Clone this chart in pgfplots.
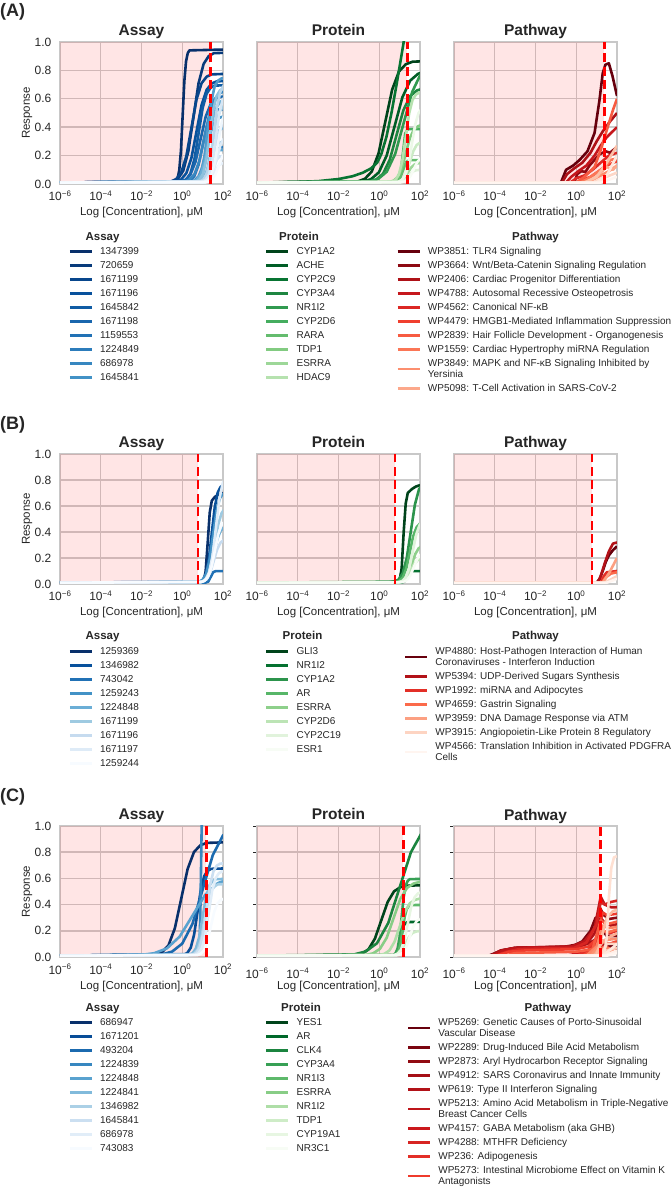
\documentclass[border=0pt]{standalone}
\usepackage{fontspec}
\setmainfont{Liberation Sans}
\usepackage{pgfplots}
\pgfplotsset{compat=1.18}

\definecolor{txt}{HTML}{262626}
\definecolor{gridc}{HTML}{CCCCCC}
\definecolor{framec}{HTML}{C8C8C8}
% sequential maps, darkest first
\definecolor{bl0}{HTML}{08306B}\definecolor{bl1}{HTML}{08519C}\definecolor{bl2}{HTML}{2171B5}
\definecolor{bl3}{HTML}{4292C6}\definecolor{bl4}{HTML}{6BAED6}\definecolor{bl5}{HTML}{9ECAE1}
\definecolor{bl6}{HTML}{C6DBEF}\definecolor{bl7}{HTML}{DEEBF7}\definecolor{bl8}{HTML}{F7FBFF}
\definecolor{gr0}{HTML}{00441B}\definecolor{gr1}{HTML}{006D2C}\definecolor{gr2}{HTML}{238B45}
\definecolor{gr3}{HTML}{41AB5D}\definecolor{gr4}{HTML}{74C476}\definecolor{gr5}{HTML}{A1D99B}
\definecolor{gr6}{HTML}{C7E9C0}\definecolor{gr7}{HTML}{E5F5E0}\definecolor{gr8}{HTML}{F7FCF5}
\definecolor{rd0}{HTML}{67000D}\definecolor{rd1}{HTML}{A50F15}\definecolor{rd2}{HTML}{CB181D}
\definecolor{rd3}{HTML}{EF3B2C}\definecolor{rd4}{HTML}{FB6A4A}\definecolor{rd5}{HTML}{FC9272}
\definecolor{rd6}{HTML}{FCBBA1}\definecolor{rd7}{HTML}{FEE0D2}\definecolor{rd8}{HTML}{FFF5F0}

% legend rows: fixed height/depth so that rows are evenly spaced
\newcommand\lsA{\rule{0pt}{10pt}}
\newcommand\lsB{\rule[-4pt]{0pt}{4pt}}
\newcommand\lgi[1]{\lsA#1\lsB}
\newcommand\lgii[2]{\parbox[c]{270pt}{\baselineskip=11pt\lsA#1\\#2\lsB}}

\pgfplotsset{
  panel/.style={
    scale only axis, width=163pt,
    xmin=-6, xmax=2, ymin=0, ymax=1,
    xtick={-6,-4,-2,0,2},
    xticklabels={10\textsuperscript{−6},10\textsuperscript{−4},10\textsuperscript{−2},10\textsuperscript{0},10\textsuperscript{2}},
    ytick={0,0.2,0.4,0.6,0.8,1},
    grid=major,
    major grid style={draw=gridc, line width=1.4pt},
    axis line style={draw=framec, line width=2pt},
    tick style={draw=none},
    tick label style={font=\fontsize{12}{12}\selectfont, text=txt, inner sep=0pt},
    xticklabel style={anchor=base, yshift=-17pt},
    yticklabel style={anchor=east, xshift=-8.5pt},
    xlabel={Log [Concentration], μM},
    xlabel style={at={(axis description cs:0.5,0)}, anchor=base, yshift=-32pt,
      font=\fontsize{11.5}{11.5}\selectfont, text=txt, inner sep=0pt},
    title style={at={(axis description cs:0.5,1)}, anchor=base, yshift=0pt,
      font=\bfseries\fontsize{15.5}{15.5}\selectfont, text=txt, inner sep=0pt},
    legend cell align=left,
    legend image code/.code={\draw[##1] (0pt,0pt) -- (22pt,0pt);},
    legend style={draw=none, fill=none, inner sep=0pt, outer sep=0pt,
      row sep=0pt, column sep=7pt, anchor=north west,
      font=\fontsize{10}{11}\selectfont,
      nodes={inner sep=0pt, text depth=, text=txt}},
    every axis plot/.append style={line width=2.6pt, line join=round},
  },
  ylab/.style={ylabel=Response, yticklabels={0.0,0.2,0.4,0.6,0.8,1.0},
    ylabel style={at={(axis description cs:-0.2025,0.5)}, anchor=center,
      font=\fontsize{11.5}{11.5}\selectfont, text=txt, inner sep=0pt}},
  noylab/.style={yticklabels={,,,,,}},
  cticks/.style={ytick style={draw=txt, line width=0.8pt}, ytick pos=left, tick align=outside, major tick length=4pt},
  shade/.style={draw=none, fill=red, fill opacity=0.1, forget plot},
  cut/.style={color=red, line width=2.8pt, dash pattern=on 9pt off 4.5pt, forget plot},
}

\begin{document}
\begin{tikzpicture}[x=1pt,y=1pt]
\path[use as bounding box] (0,0) rectangle (670,1187);

\node[anchor=west, inner sep=0pt, text=txt, font=\bfseries\fontsize{18}{18}\selectfont] at (0,1175) {(A)};
\node[anchor=west, inner sep=0pt, text=txt, font=\bfseries\fontsize{18}{18}\selectfont] at (0,762) {(B)};
\node[anchor=west, inner sep=0pt, text=txt, font=\bfseries\fontsize{18}{18}\selectfont] at (0,390) {(C)};

%% ---------------- (A) Assay
\begin{axis}[panel, ylab, at={(60pt,1003pt)}, anchor=south west, height=142pt, title={Assay},
  legend style={at={(0.052,-0.427)}}]
\addplot[shade] coordinates {(-6,1) (1.38,1)} \closedcycle;
\addplot[color=bl0] coordinates {(-6,0.01) (-0.313,0.019) (-0.23,0.039) (-0.147,0.096) (-0.063,0.236) (0.02,0.48) (0.103,0.724) (0.187,0.864) (0.27,0.921) (0.353,0.941) (3,0.95)};
\addlegendentry{\lgi{1347399}}
\addplot[color=bl1!33!bl0] coordinates {(-6,0.01) (-0.45,0.019) (-0.2,0.039) (0.05,0.094) (0.3,0.231) (0.55,0.47) (0.8,0.709) (1.05,0.846) (1.3,0.901) (1.55,0.921) (3,0.93)};
\addlegendentry{\lgi{720659}}
\addplot[color=bl1!67!bl0] coordinates {(-6,0.01) (-0.55,0.018) (-0.3,0.034) (-0.05,0.08) (0.2,0.195) (0.45,0.395) (0.7,0.595) (0.95,0.71) (1.2,0.756) (1.45,0.772) (3,0.78)};
\addlegendentry{\lgi{1671199}}
\addplot[color=bl1] coordinates {(-6,0.01) (-0.3,0.017) (-0.05,0.032) (0.2,0.076) (0.45,0.183) (0.7,0.37) (0.95,0.557) (1.2,0.664) (1.45,0.708) (1.7,0.723) (3,0.73)};
\addlegendentry{\lgi{1671196}}
\addplot[color=bl2!33!bl1] coordinates {(-6,0.01) (0,0.017) (0.2,0.031) (0.4,0.073) (0.6,0.176) (0.8,0.355) (1.0,0.534) (1.2,0.637) (1.4,0.679) (1.6,0.693) (3,0.70)};
\addlegendentry{\lgi{1645842}}
\addplot[color=bl2!67!bl1] coordinates {(-6,0.01) (-0.1,0.016) (0.15,0.029) (0.4,0.066) (0.65,0.156) (0.9,0.315) (1.15,0.474) (1.4,0.564) (1.65,0.601) (1.9,0.614) (3,0.62)};
\addlegendentry{\lgi{1671198}}
\addplot[color=bl2] coordinates {(-6,0.01) (0.2,0.015) (0.4,0.026) (0.6,0.057) (0.8,0.135) (1.0,0.27) (1.2,0.405) (1.4,0.483) (1.6,0.514) (1.8,0.525) (3,0.53)};
\addlegendentry{\lgi{1159553}}
\addplot[color=bl3!33!bl2] coordinates {(-6,0.01) (1.05,0.012) (1.175,0.033) (1.3,0.135) (1.425,0.237) (1.55,0.258) (3,0.26)};
\addlegendentry{\lgi{1224849}}
\addplot[color=bl3!67!bl2] coordinates {(-6,0.01) (0.1,0.016) (0.35,0.03) (0.6,0.069) (0.85,0.166) (1.1,0.335) (1.35,0.504) (1.6,0.6) (1.85,0.64) (2.1,0.654) (3,0.66)};
\addlegendentry{\lgi{686978}}
\addplot[color=bl3] coordinates {(-6,0.01) (0.4,0.015) (0.6,0.025) (0.8,0.053) (1.0,0.123) (1.2,0.245) (1.4,0.367) (1.6,0.437) (1.8,0.465) (2.0,0.475) (3,0.48)};
\addlegendentry{\lgi{1645841}}
\addplot[color=bl4!33!bl3] coordinates {(-6,0.01) (0.583,0.017) (0.75,0.033) (0.917,0.077) (1.083,0.188) (1.25,0.38) (1.417,0.572) (1.583,0.683) (1.75,0.727) (1.917,0.743) (3,0.75)};
\addplot[color=bl4!67!bl3] coordinates {(-6,0.01) (1.1,0.012) (1.225,0.031) (1.35,0.125) (1.475,0.219) (1.6,0.238) (3,0.24)};
\addplot[color=bl4] coordinates {(-6,0.01) (0.5,0.016) (0.7,0.028) (0.9,0.064) (1.1,0.152) (1.3,0.305) (1.5,0.458) (1.7,0.546) (1.9,0.582) (2.1,0.594) (3,0.6)};
\addplot[color=bl5!33!bl4] coordinates {(-6,0.01) (0.733,0.014) (0.9,0.022) (1.067,0.045) (1.233,0.104) (1.4,0.205) (1.567,0.306) (1.733,0.365) (1.9,0.388) (2.067,0.396) (3,0.4)};
\addplot[color=bl5!67!bl4] coordinates {(-6,0.01) (0.683,0.017) (0.85,0.031) (1.017,0.071) (1.183,0.171) (1.35,0.345) (1.517,0.519) (1.683,0.619) (1.85,0.659) (2.017,0.673) (3,0.68)};
\addplot[color=bl5] coordinates {(-6,0.01) (0.833,0.015) (1.0,0.027) (1.167,0.06) (1.333,0.142) (1.5,0.285) (1.667,0.428) (1.833,0.51) (2.0,0.543) (2.167,0.555)};
\addplot[color=bl6!33!bl5] coordinates {(-6,0.01) (0.95,0.013) (1.075,0.019) (1.2,0.036) (1.325,0.08) (1.45,0.155) (1.575,0.23) (1.7,0.274) (1.825,0.291) (1.95,0.297) (3,0.3)};
\addplot[color=bl6!67!bl5] coordinates {(-6,0.01) (0.883,0.017) (1.05,0.032) (1.217,0.075) (1.383,0.18) (1.55,0.365) (1.717,0.55) (1.883,0.655) (2.05,0.698)};
\addplot[color=bl6] coordinates {(-6,0.01) (0.933,0.014) (1.1,0.024) (1.267,0.05) (1.433,0.116) (1.6,0.23) (1.767,0.344) (1.933,0.41) (2.1,0.436)};
\addplot[color=bl7!33!bl6] coordinates {(-6,0.01) (1.0,0.012) (1.125,0.016) (1.25,0.027) (1.375,0.056) (1.5,0.105) (1.625,0.154) (1.75,0.183) (1.875,0.194) (2.0,0.198)};
\addplot[color=bl7!67!bl6] coordinates {(-6,0.01) (0.983,0.016) (1.15,0.03) (1.317,0.068) (1.483,0.164) (1.65,0.33) (1.817,0.496) (1.983,0.592) (2.15,0.63)};
\addplot[color=bl7] coordinates {(-6,0.01) (1.033,0.013) (1.2,0.021) (1.367,0.041) (1.533,0.092) (1.7,0.18) (1.867,0.268) (2.033,0.319)};
\addplot[color=bl8!33!bl7] coordinates {(-6,0.01) (1.1,0.011) (1.225,0.014) (1.35,0.023) (1.475,0.044) (1.6,0.08) (1.725,0.116) (1.85,0.137) (1.975,0.146) (2.1,0.149)};
\addplot[color=bl8!67!bl7] coordinates {(-6,0.01) (1.083,0.015) (1.25,0.027) (1.417,0.059) (1.583,0.14) (1.75,0.28) (1.917,0.42) (2.083,0.501)};
\addplot[color=bl8] coordinates {(-6,0.01) (1.133,0.012) (1.3,0.017) (1.467,0.032) (1.633,0.068) (1.8,0.13) (1.967,0.192) (2.133,0.228)};
\addplot[cut] coordinates {(1.38,0) (1.38,1)};
\end{axis}

%% ---------------- (A) Protein
\begin{axis}[panel, noylab, at={(257pt,1003pt)}, anchor=south west, height=142pt, title={Protein},
  legend style={at={(0.049,-0.427)}}]
\addplot[shade] coordinates {(-6,1) (1.38,1)} \closedcycle;
\addplot[color=gr0] coordinates {(-6,0.01) (-1.033,0.019) (-0.7,0.037) (-0.367,0.088) (-0.033,0.216) (0.3,0.44) (0.633,0.664) (0.967,0.792) (1.3,0.843) (1.633,0.861) (3,0.87)};
\addlegendentry{\lgi{CYP1A2}}
\addplot[color=gr1!62!gr0] coordinates {(-6,0.01) (-0.788,0.018) (-0.404,0.034) (-0.019,0.082) (0.365,0.2) (0.75,0.405) (1.135,0.61) (1.519,0.728) (1.904,0.776) (2.288,0.792)};
\addlegendentry{\lgi{ACHE}}
\addplot[color=gr2!23!gr1] coordinates {(-6,0.01) (-4,0.015) (-3,0.02) (-2,0.035) (-1.3,0.055) (-0.8,0.08) (-0.4,0.11) (-0.1,0.15) (0.1,0.21) (0.35,0.33) (0.6,0.5) (0.85,0.7) (1.05,0.87) (1.2,1.0) (1.4,1.2)};
\addlegendentry{\lgi{CYP2C9}}
\addplot[color=gr2!85!gr1] coordinates {(-6,0.01) (-0.483,0.017) (-0.15,0.031) (0.183,0.071) (0.517,0.171) (0.85,0.345) (1.183,0.519) (1.517,0.619) (1.85,0.659) (2.183,0.673)};
\addlegendentry{\lgi{CYP3A4}}
\addplot[color=gr3!46!gr2] coordinates {(-6,0.01) (-0.467,0.018) (-0.05,0.036) (0.367,0.086) (0.783,0.212) (1.2,0.43) (1.617,0.648) (2.033,0.774) (2.45,0.824)};
\addlegendentry{\lgi{NR1I2}}
\addplot[color=gr4!8!gr3] coordinates {(-6,0.01) (0.9,0.014) (1.025,0.045) (1.15,0.2) (1.275,0.355) (1.4,0.386) (3,0.39)};
\addlegendentry{\lgi{CYP2D6}}
\addplot[color=gr4!69!gr3] coordinates {(-6,0.01) (0.817,0.012) (0.983,0.025) (1.15,0.09) (1.317,0.155) (1.483,0.168) (3,0.17)};
\addlegendentry{\lgi{RARA}}
\addplot[color=gr5!31!gr4] coordinates {(-6,0.01) (0.5,0.014) (0.7,0.023) (0.9,0.047) (1.1,0.108) (1.3,0.215) (1.5,0.322) (1.7,0.383) (1.9,0.407) (2.1,0.416)};
\addlegendentry{\lgi{TDP1}}
\addplot[color=gr5!92!gr4] coordinates {(-6,0.01) (0.733,0.011) (0.9,0.014) (1.067,0.023) (1.233,0.044) (1.4,0.08) (1.567,0.116) (1.733,0.137) (1.9,0.146) (2.067,0.149)};
\addlegendentry{\lgi{ESRRA}}
\addplot[color=gr6!54!gr5] coordinates {(-6,0.01) (0.633,0.016) (0.8,0.03) (0.967,0.068) (1.133,0.164) (1.3,0.33) (1.467,0.496) (1.633,0.592) (1.8,0.63) (1.967,0.644) (3,0.65)};
\addlegendentry{\lgi{HDAC9}}
\addplot[color=gr7!15!gr6] coordinates {(-6,0.01) (0.833,0.013) (1.0,0.019) (1.167,0.036) (1.333,0.08) (1.5,0.155) (1.667,0.23) (1.833,0.274) (2.0,0.291)};
\addplot[color=gr7!77!gr6] coordinates {(-6,0.01) (0.95,0.011) (1.075,0.013) (1.2,0.018) (1.325,0.032) (1.45,0.055) (1.575,0.078) (1.7,0.092) (1.825,0.097) (1.95,0.099)};
\addplot[color=gr8!38!gr7] coordinates {(-6,0.01) (0.933,0.015) (1.1,0.027) (1.267,0.059) (1.433,0.14) (1.6,0.28) (1.767,0.42) (1.933,0.501) (2.1,0.533)};
\addplot[color=gr8] coordinates {(-6,0.01) (1.033,0.012) (1.2,0.016) (1.367,0.027) (1.533,0.056) (1.7,0.105) (1.867,0.154) (2.033,0.183)};
\addplot[cut] coordinates {(1.38,0) (1.38,1)};
\end{axis}

%% ---------------- (A) Pathway
\begin{axis}[panel, noylab, at={(454pt,1003pt)}, anchor=south west, height=142pt, title={Pathway},
  legend style={at={(-0.354,-0.427)}}]
\addplot[shade] coordinates {(-6,1) (1.38,1)} \closedcycle;
\addplot[color=rd0] coordinates {(-6,0.01) (-0.75,0.01) (-0.5,0.1) (-0.15,0.13) (0.17,0.17) (0.55,0.23) (0.9,0.36) (1.14,0.59) (1.3,0.78) (1.43,0.84) (1.6,0.85) (1.78,0.76) (2,0.62)};
\addlegendentry{\lgi{WP3851: TLR4 Signaling}}
\addplot[color=rd1!62!rd0] coordinates {(-6,0.01) (-0.1,0.01) (0.05,0.07) (0.25,0.09) (0.45,0.085) (0.65,0.13) (0.9,0.17) (1.15,0.21) (1.45,0.23) (1.65,0.22) (2,0.26)};
\addlegendentry{\lgi{WP3664: Wnt/Beta-Catenin Signaling Regulation}}
\addplot[color=rd2!23!rd1] coordinates {(-6,0.01) (-0.7,0.01) (-0.45,0.07) (-0.1,0.11) (0.3,0.15) (0.7,0.22) (1.0,0.3) (1.3,0.37) (1.6,0.43) (2,0.5)};
\addlegendentry{\lgi{WP2406: Cardiac Progenitor Differentiation}}
\addplot[color=rd2!85!rd1] coordinates {(-6,0.01) (-0.5,0.01) (-0.25,0.05) (0.1,0.09) (0.5,0.13) (0.9,0.2) (1.2,0.27) (1.5,0.33) (2,0.4)};
\addlegendentry{\lgi{WP4788: Autosomal Recessive Osteopetrosis}}
\addplot[color=rd3!46!rd2] coordinates {(-6,0.01) (-0.3,0.01) (0,0.04) (0.4,0.06) (0.8,0.1) (1.2,0.15) (1.6,0.2) (2,0.22)};
\addlegendentry{\lgi{WP4562: Canonical NF-κB}}
\addplot[color=rd4!8!rd3] coordinates {(-6,0.01) (0,0.01) (0.3,0.03) (0.7,0.05) (1.1,0.09) (1.5,0.13) (2,0.16)};
\addlegendentry{\lgi{WP4479: HMGB1-Mediated Inflammation Suppression}}
\addplot[color=rd4!69!rd3] coordinates {(-6,0.01) (0,0.01) (0.4,0.05) (0.9,0.12) (1.2,0.24) (1.5,0.38) (1.8,0.52) (2,0.6)};
\addlegendentry{\lgi{WP2839: Hair Follicle Development - Organogenesis}}
\addplot[color=rd5!31!rd4] coordinates {(-6,0.01) (0.2,0.01) (0.6,0.04) (1.0,0.08) (1.4,0.12) (1.7,0.17) (2,0.18)};
\addlegendentry{\lgi{WP1559: Cardiac Hypertrophy miRNA Regulation}}
\addplot[color=rd5!92!rd4] coordinates {(-6,0.01) (0.3,0.01) (0.8,0.03) (1.2,0.06) (1.6,0.09) (2,0.13)};
\addlegendentry{\lgii{WP3849: MAPK and NF-κB Signaling Inhibited by}{Yersinia}}
\addplot[color=rd6!54!rd5] coordinates {(-6,0.01) (0.5,0.01) (0.9,0.04) (1.2,0.08) (1.5,0.12) (1.8,0.1) (2,0.13)};
\addlegendentry{\lgi{WP5098: T-Cell Activation in SARS-CoV-2}}
\addplot[color=rd7!15!rd6] coordinates {(-6,0.01) (0.4,0.01) (1.0,0.05) (1.5,0.15) (2,0.27)};
\addplot[color=rd7!77!rd6] coordinates {(-6,0.01) (0.8,0.01) (1.3,0.04) (2,0.08)};
\addplot[color=rd8!38!rd7] coordinates {(-6,0.01) (1.0,0.01) (1.5,0.06) (2,0.2)};
\addplot[color=rd8] coordinates {(-6,0.01) (1.2,0.01) (2,0.05)};
\addplot[cut] coordinates {(1.38,0) (1.38,1)};
\end{axis}

%% ---------------- (B) Assay
\begin{axis}[panel, ylab, at={(60pt,603pt)}, anchor=south west, height=130pt, title={Assay},
  legend style={at={(0.052,-0.466)}}]
\addplot[shade] coordinates {(-6,1) (0.77,1)} \closedcycle;
\addplot[color=bl0] coordinates {(-6,0.01) (1.05,0.01) (1.15,0.1) (1.25,0.32) (1.35,0.55) (1.45,0.64) (1.6,0.67) (1.8,0.69) (2,0.7)};
\addlegendentry{\lgi{1259369}}
\addplot[color=bl1] coordinates {(-6,0.01) (0.879,0.018) (1.021,0.034) (1.164,0.079) (1.307,0.192) (1.45,0.39) (1.593,0.588) (1.736,0.701) (1.879,0.746) (2.021,0.762)};
\addlegendentry{\lgi{1346982}}
\addplot[color=bl2] coordinates {(-6,0.01) (1.15,0.011) (1.275,0.018) (1.4,0.055) (1.525,0.092) (1.65,0.099) (3,0.1)};
\addlegendentry{\lgi{743042}}
\addplot[color=bl3] coordinates {(-6,0.01) (0.833,0.017) (1.0,0.032) (1.167,0.075) (1.333,0.18) (1.5,0.365) (1.667,0.55) (1.833,0.655) (2.0,0.698)};
\addlegendentry{\lgi{1259243}}
\addplot[color=bl4] coordinates {(-6,0.01) (0.883,0.014) (1.05,0.024) (1.217,0.05) (1.383,0.116) (1.55,0.23) (1.717,0.344) (1.883,0.41) (2.05,0.436)};
\addlegendentry{\lgi{1224848}}
\addplot[color=bl5] coordinates {(-6,0.01) (0.933,0.016) (1.1,0.028) (1.267,0.064) (1.433,0.152) (1.6,0.305) (1.767,0.458) (1.933,0.546) (2.1,0.582)};
\addlegendentry{\lgi{1671199}}
\addplot[color=bl6] coordinates {(-6,0.01) (0.883,0.013) (1.05,0.021) (1.217,0.041) (1.383,0.092) (1.55,0.18) (1.717,0.268) (1.883,0.319) (2.05,0.339)};
\addlegendentry{\lgi{1671196}}
\addplot[color=bl7] coordinates {(-6,0.01) (0.983,0.018) (1.15,0.036) (1.317,0.086) (1.483,0.212) (1.65,0.43) (1.817,0.648) (1.983,0.774) (2.15,0.824)};
\addlegendentry{\lgi{1671197}}
\addplot[color=bl8] coordinates {(-6,0.01) (0.933,0.015) (1.1,0.025) (1.267,0.055) (1.433,0.128) (1.6,0.255) (1.767,0.382) (1.933,0.455) (2.1,0.485)};
\addlegendentry{\lgi{1259244}}
\addplot[cut] coordinates {(0.77,0) (0.77,1)};
\end{axis}

%% ---------------- (B) Protein
\begin{axis}[panel, noylab, at={(257pt,603pt)}, anchor=south west, height=130pt, title={Protein},
  legend style={at={(0.049,-0.466)}}]
\addplot[shade] coordinates {(-6,1) (0.77,1)} \closedcycle;
\addplot[color=gr0] coordinates {(-6,0.01) (0.4,0.01) (0.7,0.02) (1.0,0.03) (1.1,0.12) (1.2,0.4) (1.3,0.62) (1.4,0.7) (1.6,0.73) (1.8,0.75) (2,0.76)};
\addlegendentry{\lgi{GLI3}}
\addplot[color=gr2!14!gr1] coordinates {(-6,0.01) (1.1,0.011) (1.225,0.018) (1.35,0.055) (1.475,0.092) (1.6,0.099) (3,0.1)};
\addlegendentry{\lgi{NR1I2}}
\addplot[color=gr3!29!gr2] coordinates {(-6,0.01) (0.75,0.018) (0.95,0.034) (1.15,0.082) (1.35,0.2) (1.55,0.405) (1.75,0.61) (1.95,0.728) (2.15,0.776)};
\addlegendentry{\lgi{CYP1A2}}
\addplot[color=gr4!43!gr3] coordinates {(-6,0.01) (0.833,0.015) (1.0,0.025) (1.167,0.053) (1.333,0.123) (1.5,0.245) (1.667,0.367) (1.833,0.437) (2.0,0.465)};
\addlegendentry{\lgi{AR}}
\addplot[color=gr5!57!gr4] coordinates {(-6,0.01) (0.933,0.013) (1.1,0.019) (1.267,0.036) (1.433,0.08) (1.6,0.155) (1.767,0.23) (1.933,0.274) (2.1,0.291)};
\addlegendentry{\lgi{ESRRA}}
\addplot[color=gr6!71!gr5] coordinates {(-6,0.01) (0.883,0.012) (1.05,0.016) (1.217,0.027) (1.383,0.056) (1.55,0.105) (1.717,0.154) (1.883,0.183) (2.05,0.194)};
\addlegendentry{\lgi{CYP2D6}}
\addplot[color=gr7!86!gr6] coordinates {(-6,0.01) (0.983,0.015) (1.15,0.025) (1.317,0.055) (1.483,0.128) (1.65,0.255) (1.817,0.382) (1.983,0.455) (2.15,0.485)};
\addlegendentry{\lgi{CYP2C19}}
\addplot[color=gr8] coordinates {(-6,0.01) (1.033,0.012) (1.2,0.017) (1.367,0.032) (1.533,0.068) (1.7,0.13) (1.867,0.192) (2.033,0.228)};
\addlegendentry{\lgi{ESR1}}
\addplot[cut] coordinates {(0.77,0) (0.77,1)};
\end{axis}

%% ---------------- (B) Pathway
\begin{axis}[panel, noylab, at={(454pt,603pt)}, anchor=south west, height=130pt, title={Pathway},
  legend style={at={(-0.308,-0.466)}}]
\addplot[shade] coordinates {(-6,1) (0.77,1)} \closedcycle;
\addplot[color=rd0] coordinates {(-6,0.01) (1.0,0.01) (1.15,0.04) (1.3,0.1) (1.45,0.17) (1.6,0.22) (1.8,0.26) (2,0.29)};
\addlegendentry{\lgii{WP4880: Host-Pathogen Interaction of Human}{Coronaviruses - Interferon Induction}}
\addplot[color=rd2!33!rd1] coordinates {(-6,0.01) (1.05,0.01) (1.2,0.06) (1.4,0.16) (1.6,0.25) (1.8,0.31) (2,0.32)};
\addlegendentry{\lgi{WP5394: UDP-Derived Sugars Synthesis}}
\addplot[color=rd3!67!rd2] coordinates {(-6,0.01) (1.2,0.01) (1.35,0.06) (1.5,0.09) (2,0.1)};
\addlegendentry{\lgi{WP1992: miRNA and Adipocytes}}
\addplot[color=rd4] coordinates {(-6,0.01) (1.25,0.01) (1.45,0.05) (1.7,0.08) (2,0.09)};
\addlegendentry{\lgi{WP4659: Gastrin Signaling}}
\addplot[color=rd6!33!rd5] coordinates {(-6,0.01) (1.3,0.01) (1.6,0.08) (2,0.2)};
\addlegendentry{\lgi{WP3959: DNA Damage Response via ATM}}
\addplot[color=rd7!67!rd6] coordinates {(-6,0.01) (1.4,0.01) (2,0.06)};
\addlegendentry{\lgi{WP3915: Angiopoietin-Like Protein 8 Regulatory}}
\addplot[color=rd8] coordinates {(-6,0.01) (1.5,0.01) (2,0.04)};
\addlegendentry{\lgii{WP4566: Translation Inhibition in Activated PDGFRA}{Cells}}
\addplot[cut] coordinates {(0.77,0) (0.77,1)};
\end{axis}

%% ---------------- (C) Assay
\begin{axis}[panel, ylab, at={(60pt,230pt)}, anchor=south west, height=131pt, title={Assay},
  legend style={at={(0.052,-0.447)}}]
\addplot[shade] coordinates {(-6,1) (1.18,1)} \closedcycle;
\addplot[color=bl0] coordinates {(-6,0.01) (-1.3,0.019) (-0.988,0.037) (-0.675,0.089) (-0.363,0.219) (-0.05,0.445) (0.263,0.671) (0.575,0.801) (0.888,0.853) (1.2,0.871) (3,0.88)};
\addlegendentry{\lgi{686947}}
\addplot[color=bl1!89!bl0] coordinates {(-6,0.01) (0.083,0.017) (0.25,0.031) (0.417,0.071) (0.583,0.171) (0.75,0.345) (0.917,0.519) (1.083,0.619) (1.25,0.659) (1.417,0.673) (3,0.68)};
\addlegendentry{\lgi{1671201}}
\addplot[color=bl2!78!bl1] coordinates {(-6,0.01) (-1,0.02) (-0.5,0.041) (0,0.102) (0.5,0.252) (1,0.515) (1.5,0.778) (2,0.928) (2.5,0.989)};
\addlegendentry{\lgi{493204}}
\addplot[color=bl3!67!bl2] coordinates {(-6,0.01) (0.787,0.023) (0.853,0.127) (0.887,0.32) (0.92,0.655) (0.953,0.99) (0.987,1.18) (1.053,1.287)};
\addlegendentry{\lgi{1224839}}
\addplot[color=bl4!56!bl3] coordinates {(-6,0.01) (-2,0.016) (-1.375,0.029) (-0.75,0.066) (-0.125,0.156) (0.5,0.315) (1.125,0.474) (1.75,0.564) (2.375,0.601)};
\addlegendentry{\lgi{1224848}}
\addplot[color=bl5!44!bl4] coordinates {(-6,0.01) (0.333,0.016) (0.5,0.028) (0.667,0.064) (0.833,0.152) (1.0,0.305) (1.167,0.458) (1.333,0.546) (1.5,0.582) (1.667,0.594) (3,0.6)};
\addlegendentry{\lgi{1224841}}
\addplot[color=bl6!33!bl5] coordinates {(-6,0.01) (0.433,0.015) (0.6,0.027) (0.767,0.06) (0.933,0.142) (1.1,0.285) (1.267,0.428) (1.433,0.51) (1.6,0.543) (1.767,0.555) (3,0.56)};
\addlegendentry{\lgi{1346982}}
\addplot[color=bl7!22!bl6] coordinates {(-6,0.01) (0.533,0.017) (0.7,0.032) (0.867,0.075) (1.033,0.18) (1.2,0.365) (1.367,0.55) (1.533,0.655) (1.7,0.698) (1.867,0.713) (3,0.72)};
\addlegendentry{\lgi{1645841}}
\addplot[color=bl8!11!bl7] coordinates {(-6,0.01) (0.633,0.016) (0.8,0.03) (0.967,0.069) (1.133,0.166) (1.3,0.335) (1.467,0.504) (1.633,0.6) (1.8,0.64) (1.967,0.654) (3,0.66)};
\addlegendentry{\lgi{686978}}
\addplot[color=bl8] coordinates {(-6,0.01) (0.733,0.014) (0.9,0.024) (1.067,0.05) (1.233,0.116) (1.4,0.23) (1.567,0.344) (1.733,0.41) (1.9,0.436) (2.067,0.446)};
\addlegendentry{\lgi{743083}}
\addplot[cut] coordinates {(1.18,0) (1.18,1)};
\end{axis}

%% ---------------- (C) Protein
\begin{axis}[panel, noylab, cticks, at={(257pt,230pt)}, anchor=south west, height=131pt, title={Protein},
  legend style={at={(0.049,-0.447)}}]
\addplot[shade] coordinates {(-6,1) (1.18,1)} \closedcycle;
\addplot[color=gr0] coordinates {(-6,0.01) (-1.15,0.015) (-0.838,0.027) (-0.525,0.059) (-0.213,0.14) (0.1,0.28) (0.413,0.42) (0.725,0.501) (1.038,0.533) (1.35,0.545) (3,0.55)};
\addlegendentry{\lgi{YES1}}
\addplot[color=gr1!89!gr0] coordinates {(-6,0.01) (0.717,0.013) (0.883,0.034) (1.05,0.14) (1.217,0.246) (1.383,0.267) (3,0.27)};
\addlegendentry{\lgi{AR}}
\addplot[color=gr2!78!gr1] coordinates {(-6,0.01) (-1.222,0.02) (-0.667,0.042) (-0.111,0.105) (0.444,0.26) (1.0,0.53) (1.556,0.8) (2.111,0.955) (2.667,1.018)};
\addlegendentry{\lgi{CLK4}}
\addplot[color=gr3!67!gr2] coordinates {(-6,0.01) (0.7,0.016) (0.8,0.028) (0.9,0.064) (1.0,0.152) (1.1,0.305) (1.2,0.458) (1.3,0.546) (1.4,0.582) (1.5,0.594) (3,0.6)};
\addlegendentry{\lgi{CYP3A4}}
\addplot[color=gr4!56!gr3] coordinates {(-6,0.01) (0.75,0.014) (0.85,0.022) (0.95,0.045) (1.05,0.104) (1.15,0.205) (1.25,0.306) (1.35,0.365) (1.45,0.388) (1.55,0.396) (3,0.4)};
\addlegendentry{\lgi{NR1I3}}
\addplot[color=gr5!44!gr4] coordinates {(-6,0.01) (-0.633,0.016) (-0.3,0.028) (0.033,0.062) (0.367,0.147) (0.7,0.295) (1.033,0.443) (1.367,0.528) (1.7,0.562) (2.033,0.574)};
\addlegendentry{\lgi{ESRRA}}
\addplot[color=gr6!33!gr5] coordinates {(-6,0.01) (0,0.014) (0.25,0.024) (0.5,0.05) (0.75,0.116) (1.0,0.23) (1.25,0.344) (1.5,0.41) (1.75,0.436) (2.0,0.446)};
\addlegendentry{\lgi{NR1I2}}
\addplot[color=gr7!22!gr6] coordinates {(-6,0.01) (0.633,0.012) (0.8,0.016) (0.967,0.027) (1.133,0.056) (1.3,0.105) (1.467,0.154) (1.633,0.183) (1.8,0.194) (1.967,0.198)};
\addlegendentry{\lgi{TDP1}}
\addplot[color=gr8!11!gr7] coordinates {(-6,0.01) (0.733,0.015) (0.9,0.025) (1.067,0.055) (1.233,0.128) (1.4,0.255) (1.567,0.382) (1.733,0.455) (1.9,0.485) (2.067,0.495)};
\addlegendentry{\lgi{CYP19A1}}
\addplot[color=gr8] coordinates {(-6,0.01) (0.833,0.013) (1.0,0.019) (1.167,0.036) (1.333,0.08) (1.5,0.155) (1.667,0.23) (1.833,0.274) (2.0,0.291)};
\addlegendentry{\lgi{NR3C1}}
\addplot[cut] coordinates {(1.18,0) (1.18,1)};
\end{axis}

%% ---------------- (C) Pathway
\begin{axis}[panel, noylab, cticks, at={(454pt,230pt)}, anchor=south west, height=131pt, title={Pathway},
  legend style={at={(-0.29,-0.447)}}]
\addplot[shade] coordinates {(-6,1) (1.18,1)} \closedcycle;
\addplot[color=rd0] coordinates {(-6,0.01) (-4.3,0.01) (-3.8,0.04) (-3.2,0.06) (-2,0.07) (-0.5,0.07) (0,0.08) (0.5,0.1) (0.9,0.12) (1.1,0.1) (1.3,0.08) (1.6,0.08) (2,0.08)};
\addlegendentry{\lgii{WP5269: Genetic Causes of Porto-Sinusoidal}{Vascular Disease}}
\addplot[color=rd1!33!rd0] coordinates {(-6,0.01) (-4.2,0.01) (-3.7,0.05) (-3.0,0.07) (-1,0.075) (-0.2,0.08) (0.3,0.12) (0.7,0.2) (0.95,0.3) (1.1,0.26) (1.3,0.2) (1.5,0.16) (2,0.16)};
\addlegendentry{\lgi{WP2289: Drug-Induced Bile Acid Metabolism}}
\addplot[color=rd1!67!rd0] coordinates {(-6,0.01) (-4.1,0.01) (-3.6,0.05) (-3.0,0.07) (-0.5,0.08) (0.2,0.1) (0.6,0.15) (0.9,0.22) (1.15,0.38) (1.35,0.32) (1.6,0.29) (2,0.3)};
\addlegendentry{\lgi{WP2873: Aryl Hydrocarbon Receptor Signaling}}
\addplot[color=rd1] coordinates {(-6,0.01) (-4.0,0.01) (-3.5,0.05) (-2.8,0.07) (-0.3,0.075) (0.3,0.09) (0.8,0.12) (1.1,0.15) (1.3,0.1) (1.6,0.07) (2,0.06)};
\addlegendentry{\lgi{WP4912: SARS Coronavirus and Innate Immunity}}
\addplot[color=rd2!33!rd1] coordinates {(-6,0.01) (-4.2,0.01) (-3.7,0.05) (-3.1,0.065) (0,0.07) (0.5,0.1) (0.9,0.18) (1.2,0.3) (1.4,0.26) (1.7,0.24) (2,0.25)};
\addlegendentry{\lgi{WP619: Type II Interferon Signaling}}
\addplot[color=rd2!67!rd1] coordinates {(-6,0.01) (-4.1,0.01) (-3.6,0.05) (-3.0,0.07) (-0.2,0.08) (0.4,0.12) (0.9,0.22) (1.2,0.46) (1.4,0.4) (1.7,0.38) (2,0.38)};
\addlegendentry{\lgii{WP5213: Amino Acid Metabolism in Triple-Negative}{Breast Cancer Cells}}
\addplot[color=rd2] coordinates {(-6,0.01) (-0.5,0.01) (0.2,0.03) (0.7,0.06) (1.1,0.1) (1.4,0.07) (2,0.05)};
\addlegendentry{\lgi{WP4157: GABA Metabolism (aka GHB)}}
\addplot[color=rd3!33!rd2] coordinates {(-6,0.01) (-4.0,0.01) (-3.4,0.04) (-2.8,0.06) (-0.1,0.07) (0.5,0.11) (1.0,0.25) (1.2,0.42) (1.4,0.4) (1.7,0.42) (2,0.43)};
\addlegendentry{\lgi{WP4288: MTHFR Deficiency}}
\addplot[color=rd3!67!rd2] coordinates {(-6,0.01) (0,0.01) (0.5,0.04) (1.0,0.12) (1.3,0.2) (1.6,0.18) (2,0.2)};
\addlegendentry{\lgi{WP236: Adipogenesis}}
\addplot[color=rd3] coordinates {(-6,0.01) (-3.9,0.01) (-3.3,0.04) (-2.5,0.05) (0,0.06) (0.6,0.08) (1.0,0.14) (1.3,0.34) (1.5,0.32) (2,0.33)};
\addlegendentry{\lgii{WP5273: Intestinal Microbiome Effect on Vitamin K}{Antagonists}}
\addplot[color=rd4!33!rd3] coordinates {(-6,0.01) (0.3,0.01) (0.8,0.05) (1.2,0.13) (1.6,0.1) (2,0.12)};
\addplot[color=rd4!67!rd3] coordinates {(-6,0.01) (-3.5,0.01) (-3,0.03) (0,0.04) (0.8,0.06) (1.2,0.28) (1.5,0.25) (2,0.27)};
\addplot[color=rd4] coordinates {(-6,0.01) (0.5,0.01) (1.0,0.06) (1.3,0.2) (1.6,0.19) (2,0.21)};
\addplot[color=rd5!33!rd4] coordinates {(-6,0.01) (0.6,0.01) (1.1,0.05) (1.4,0.08) (2,0.04)};
\addplot[color=rd5!67!rd4] coordinates {(-6,0.01) (0.5,0.01) (1.0,0.08) (1.3,0.24) (1.6,0.22) (2,0.23)};
\addplot[color=rd5] coordinates {(-6,0.01) (0.7,0.01) (1.2,0.1) (1.5,0.13) (2,0.14)};
\addplot[color=rd6!33!rd5] coordinates {(-6,0.01) (0.8,0.01) (1.3,0.06) (2,0.03)};
\addplot[color=rd6!67!rd5] coordinates {(-6,0.01) (0.9,0.01) (1.3,0.12) (1.6,0.15) (2,0.18)};
\addplot[color=rd6] coordinates {(-6,0.01) (1.0,0.01) (1.5,0.3) (1.8,0.35) (2,0.36)};
\addplot[color=rd7!33!rd6] coordinates {(-6,0.01) (1.1,0.01) (1.5,0.05) (2,0.07)};
\addplot[color=rd7!67!rd6] coordinates {(-6,0.01) (1.2,0.01) (1.5,0.1) (2,0.1)};
\addplot[color=rd7] coordinates {(-6,0.01) (1.35,0.01) (1.5,0.15) (1.6,0.45) (1.72,0.68) (1.85,0.76) (2,0.77)};
\addplot[color=rd8!33!rd7] coordinates {(-6,0.01) (1.3,0.01) (1.7,0.06) (2,0.1)};
\addplot[color=rd8!67!rd7] coordinates {(-6,0.01) (1.4,0.01) (2,0.05)};
\addplot[color=rd8] coordinates {(-6,0.01) (1.5,0.01) (2,0.03)};
\addplot[cut] coordinates {(1.18,0) (1.18,1)};
\end{axis}

%% legend headings
\begin{scope}[every node/.style={anchor=base, inner sep=0pt, text=txt, font=\bfseries\fontsize{11.5}{11.5}\selectfont}]
\node at (102.5,946.9) {Assay};
\node at (299,946.9) {Protein};
\node at (535.5,946.9) {Pathway};
\node at (102.5,547.9) {Assay};
\node at (302.5,547.9) {Protein};
\node at (535.5,547.9) {Pathway};
\node at (102.5,175.9) {Assay};
\node at (301,175.9) {Protein};
\node at (548,175.9) {Pathway};
\end{scope}
\end{tikzpicture}
\end{document}
